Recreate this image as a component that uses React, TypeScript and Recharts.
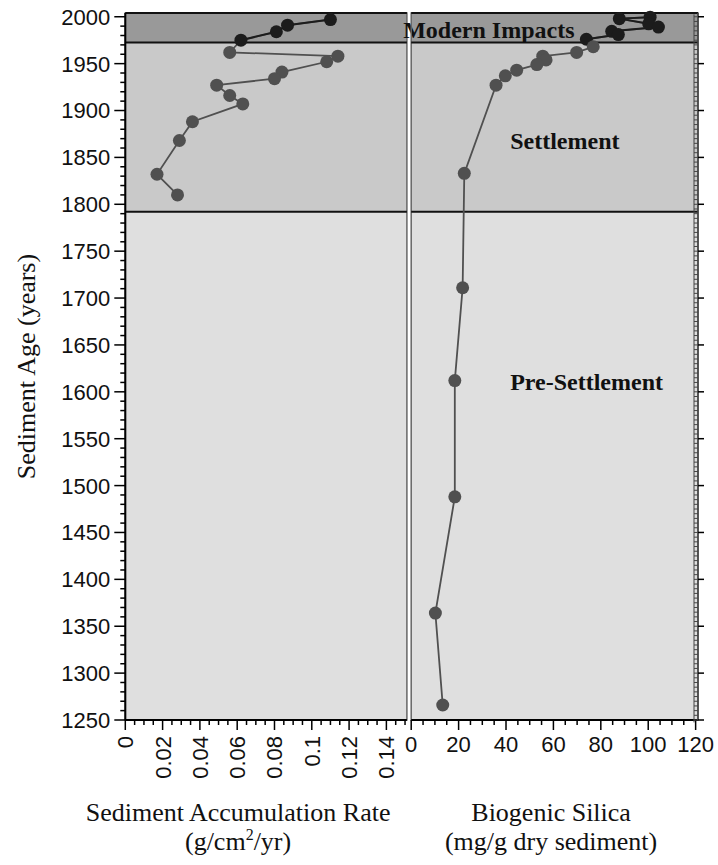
import React from "react";
import { ScatterChart, Scatter, XAxis, YAxis, ReferenceArea, ReferenceLine } from "recharts";

// sediment accumulation rate (g/cm2/yr) by core age
const rateModernYears = [1997, 1991, 1984, 1975];
const rateModern = [0.11, 0.087, 0.081, 0.062];
const rateSettlementYears = [1962, 1958, 1952, 1941, 1934, 1927, 1916, 1907, 1888, 1868, 1832, 1810];
const rateSettlement = [0.056, 0.114, 0.108, 0.084, 0.08, 0.049, 0.056, 0.063, 0.036, 0.029, 0.017, 0.028];

// biogenic silica (mg/g dry sediment) by core age
const silicaModernYears = [1999.5, 1998, 1992.5, 1989, 1984.5, 1981, 1976];
const silicaModern = [100.8, 87.8, 100.2, 104.3, 84.6, 87.4, 73.9];
const silicaSettlementYears = [1968, 1962, 1958, 1954, 1949, 1943, 1937, 1927, 1833];
const silicaSettlement = [76.8, 69.8, 55.5, 56.9, 53.0, 44.5, 39.7, 35.8, 22.4];
const silicaPreYears = [1711, 1612, 1488, 1364, 1266];
const silicaPre = [21.7, 18.4, 18.4, 10.2, 13.3];

// land-use periods
const periodNames = ["Modern Impacts", "Settlement", "Pre-Settlement"];
const periodStart = [1972.5, 1792, 1250];
const periodEnd = [2004, 1972.5, 1792];

const ageTicks = [1250, 1300, 1350, 1400, 1450, 1500, 1550, 1600, 1650, 1700, 1750, 1800, 1850, 1900, 1950, 2000];
const rateTicks = [0, 0.02, 0.04, 0.06, 0.08, 0.1, 0.12, 0.14];
const silicaTicks = [0, 20, 40, 60, 80, 100, 120];

const ageDomain = [1250, 2004];
const rateDomain = [0, 0.151];
const silicaDomain = [0, 121];

const range = (from: number, step: number, n: number) =>
  Array.from({ length: n }, (_, i) => +(from + i * step).toFixed(4));
const ageMinor = range(1250, 10, 76);
const ageEdge = range(1250, 5, 151);
const rateMinor = range(0, 0.005, 31);
const silicaMinor = range(0, 5, 25);

const zip = (years: number[], vals: number[]) => years.map((year, i) => ({ year, value: vals[i] }));

const rateModernPts = zip(rateModernYears, rateModern);
const rateSettlementPts = zip(rateSettlementYears, rateSettlement);
const silicaModernPts = zip(silicaModernYears, silicaModern);
const silicaOlderPts = [...zip(silicaSettlementYears, silicaSettlement), ...zip(silicaPreYears, silicaPre)];

const SANS = "'Liberation Sans', Arial, sans-serif";
const SERIF = "'Liberation Serif', 'Times New Roman', serif";
const bandFill = ["#999999", "#c9c9c9", "#dfdfdf"];
const DARK = "#1c1c1c";
const GREY = "#505050";

const isIn = (list: number[], v: number) => list.some((t) => Math.abs(t - v) < 1e-9);

const AgeTick = ({ x, y, payload }: any) => {
  const major = isIn(ageTicks, payload.value);
  return (
    <g>
      <line x1={x - (major ? 11 : 5)} x2={x} y1={y} y2={y} stroke="#000" strokeWidth={1.5} />
      {major && (
        <text x={x - 15} y={y} dy="0.36em" textAnchor="end" fontSize={22} fontFamily={SANS} fill="#111">
          {payload.value}
        </text>
      )}
    </g>
  );
};

const EdgeTick = ({ x, y, payload }: any) => {
  const major = payload.value % 50 === 0;
  return (
    <g>
      <line x1={x - 4} x2={x} y1={y} y2={y} stroke="#444" strokeWidth={1} />
      <line x1={x - 4} x2={x - 4} y1={y - 2.4} y2={y + 2.4} stroke="#444" strokeWidth={1} />
      {major && <line x1={x} x2={x + 6} y1={y} y2={y} stroke="#000" strokeWidth={1.5} />}
    </g>
  );
};

const RateTick = ({ x, y, payload }: any) => {
  const major = isIn(rateTicks, payload.value);
  return (
    <g>
      <line x1={x} x2={x} y1={y} y2={y + (major ? 10 : 5)} stroke="#000" strokeWidth={1.5} />
      {major && (
        <text
          transform={`translate(${x},${y + 16}) rotate(-90)`}
          dy="0.36em"
          textAnchor="end"
          fontSize={22}
          fontFamily={SANS}
          fill="#111"
        >
          {String(payload.value)}
        </text>
      )}
    </g>
  );
};

const SilicaTick = ({ x, y, payload }: any) => {
  const major = isIn(silicaTicks, payload.value);
  return (
    <g>
      <line x1={x} x2={x} y1={y} y2={y + (major ? 10 : 5)} stroke="#000" strokeWidth={1.5} />
      {major && (
        <text x={x} y={y + 32} textAnchor="middle" fontSize={22} fontFamily={SANS} fill="#111">
          {payload.value}
        </text>
      )}
    </g>
  );
};

const axisTitle = (first: string, second: React.ReactNode, dx: number) => (props: any) => {
  const vb = props.viewBox;
  const cx = vb.x + vb.width / 2 + dx;
  return (
    <g fontFamily={SERIF} fontSize={26} fill="#111" textAnchor="middle">
      <text x={cx} y={vb.y + 101}>{first}</text>
      <text x={cx} y={vb.y + 130}>{second}</text>
    </g>
  );
};

const ageTitle = (props: any) => {
  const vb = props.viewBox;
  const x = vb.x + vb.width - 90;
  const y = vb.y + vb.height / 2;
  return (
    <text
      transform={`translate(${x},${y}) rotate(-90)`}
      textAnchor="middle"
      fontFamily={SERIF}
      fontSize={26}
      fill="#111"
    >
      Sediment Age (years)
    </text>
  );
};

// text placement of each period name inside its band
const periodLabelOffset = [
  { dx: -8, dy: 25 },
  { dx: 99, dy: 106 },
  { dx: 99, dy: 178 },
];

const periodLabel = (i: number) => (props: any) => {
  const vb = props.viewBox;
  return (
    <text
      x={vb.x + periodLabelOffset[i].dx}
      y={vb.y + periodLabelOffset[i].dy}
      fontFamily={SERIF}
      fontWeight="bold"
      fontSize={24}
      fill="#111"
    >
      {periodNames[i]}
    </text>
  );
};

const dot = (fill: string) => (p: any) => <circle cx={p.cx} cy={p.cy} r={6.5} fill={fill} />;
const noDot = () => <g />;

// shaded period bands, a grey frame and black lines at the period boundaries
const bands = (withLabels: boolean) => [
  ...periodNames.map((name, i) => (
    <ReferenceArea
      key={name}
      y1={periodStart[i]}
      y2={periodEnd[i]}
      fill={bandFill[i]}
      fillOpacity={1}
      stroke="none"
      label={withLabels ? periodLabel(i) : undefined}
    />
  )),
  <ReferenceArea
    key="frame"
    y1={ageDomain[0]}
    y2={ageDomain[1]}
    fill="none"
    stroke="#666"
    strokeWidth={1.5}
  />,
  ...periodEnd.slice(0, 2).map((y, i) => (
    <ReferenceLine key={"b" + i} y={y} stroke="#111" strokeWidth={2} />
  )),
  <ReferenceLine key="b2" y={periodStart[1]} stroke="#111" strokeWidth={2} />,
];

const App = () => {
  return (
    <div style={{ position: "absolute", left: 0, top: 0, width: 718, height: 865, background: "#fff" }}>
      <div style={{ position: "absolute", left: 0, top: 0 }}>
        <ScatterChart width={420} height={865} margin={{ top: 13, right: 13.1, bottom: 85, left: 65.3 }}>
          <XAxis
            type="number"
            dataKey="value"
            domain={rateDomain}
            ticks={rateMinor}
            interval={0}
            tick={<RateTick />}
            tickLine={false}
            tickSize={0}
            tickMargin={0}
            axisLine={{ stroke: "#000", strokeWidth: 2 }}
            height={60}
            label={axisTitle(
              "Sediment Accumulation Rate",
              <>
                (g/cm<tspan fontSize={16} dy={-10}>2</tspan>
                <tspan dy={10}>/yr)</tspan>
              </>,
              -28
            )}
          />
          <YAxis
            type="number"
            dataKey="year"
            domain={ageDomain}
            ticks={ageMinor}
            interval={0}
            tick={<AgeTick />}
            tickLine={false}
            tickSize={0}
            tickMargin={0}
            axisLine={{ stroke: "#000", strokeWidth: 2 }}
            width={60}
            label={ageTitle}
          />
          {bands(false)}
          <Scatter
            data={[...rateModernPts, ...rateSettlementPts]}
            line={{ stroke: GREY, strokeWidth: 1.8 }}
            shape={noDot}
            isAnimationActive={false}
          />
          <Scatter
            data={rateModernPts}
            line={{ stroke: DARK, strokeWidth: 2 }}
            shape={dot(DARK)}
            isAnimationActive={false}
          />
          <Scatter data={rateSettlementPts} shape={dot(GREY)} isAnimationActive={false} />
        </ScatterChart>
      </div>
      <div style={{ position: "absolute", left: 400, top: 0 }}>
        <ScatterChart width={318} height={865} margin={{ top: 13, right: 0, bottom: 85, left: 11.2 }}>
          <XAxis
            type="number"
            dataKey="value"
            domain={silicaDomain}
            ticks={silicaMinor}
            interval={0}
            tick={<SilicaTick />}
            tickLine={false}
            tickSize={0}
            tickMargin={0}
            axisLine={{ stroke: "#000", strokeWidth: 2 }}
            height={60}
            label={axisTitle("Biogenic Silica", "(mg/g dry sediment)", -3.5)}
          />
          <YAxis
            type="number"
            dataKey="year"
            orientation="right"
            domain={ageDomain}
            ticks={ageEdge}
            interval={0}
            tick={<EdgeTick />}
            tickLine={false}
            tickSize={0}
            tickMargin={0}
            axisLine={{ stroke: "#444", strokeWidth: 1.5 }}
            width={20}
          />
          {bands(true)}
          <Scatter
            data={[...silicaModernPts, ...silicaOlderPts]}
            line={{ stroke: GREY, strokeWidth: 1.8 }}
            shape={noDot}
            isAnimationActive={false}
          />
          <Scatter
            data={silicaModernPts}
            line={{ stroke: DARK, strokeWidth: 2 }}
            shape={dot(DARK)}
            isAnimationActive={false}
          />
          <Scatter data={silicaOlderPts} shape={dot(GREY)} isAnimationActive={false} />
        </ScatterChart>
      </div>
    </div>
  );
};

export default App;
